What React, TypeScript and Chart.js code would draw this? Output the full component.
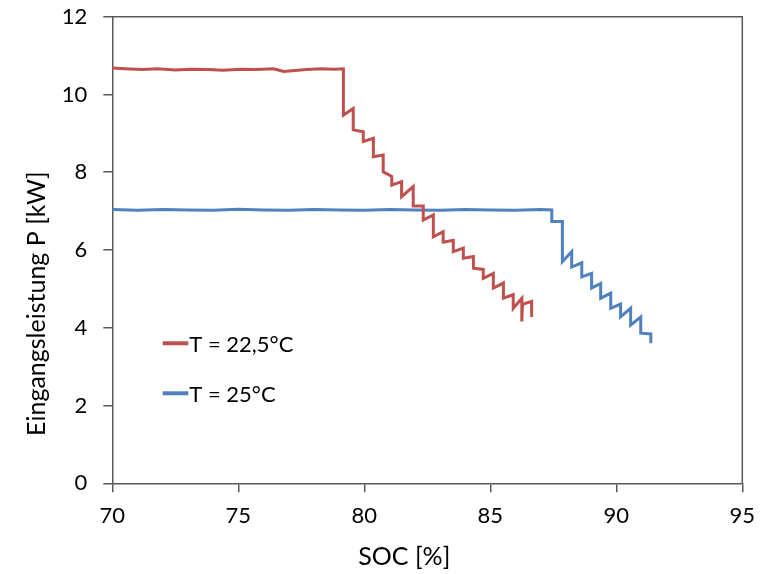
import { useEffect, useRef } from 'react';
import { Chart, registerables } from 'chart.js';

Chart.register(...registerables);

const FONT = 'Lato, "Noto Sans", sans-serif';

const X_TITLE = 'SOC [%]';
const Y_TITLE = 'Eingangsleistung P [kW]';
const SERIES_LABELS = ['T = 22,5°C', 'T = 25°C'];
const SERIES_COLORS = ['#C0504D', '#4F81BD'];

const X_TICKS = [70, 75, 80, 85, 90, 95];
const Y_TICKS = [0, 2, 4, 6, 8, 10, 12];

const redSoc = [
  70, 70.5, 71.2, 71.8, 72.5, 73.1, 73.8, 74.4, 75.1, 75.7, 76.4, 76.8, 77.7, 78.3, 78.8, 79.17,
  79.17, 79.56, 79.56, 79.96, 79.96, 80.36, 80.36, 80.75, 80.75, 81.09, 81.09, 81.48, 81.48,
  81.94, 81.94, 82.34, 82.34, 82.74, 82.74, 83.13, 83.13, 83.53, 83.53, 83.93, 83.93, 84.33,
  84.33, 84.72, 84.72, 85.12, 85.12, 85.52, 85.52, 85.91, 85.91, 86.25, 86.25, 86.28, 86.64, 86.64,
];
const redP = [
  10.68, 10.66, 10.64, 10.66, 10.63, 10.65, 10.64, 10.62, 10.65, 10.64, 10.66, 10.59, 10.64, 10.66, 10.65, 10.66,
  9.47, 9.64, 9.09, 9.04, 8.79, 8.87, 8.4, 8.44, 8.01, 7.89, 7.67, 7.76, 7.37,
  7.63, 7.13, 7.13, 6.77, 6.9, 6.34, 6.47, 6.2, 6.25, 5.96, 6.05, 5.79, 5.83,
  5.53, 5.5, 5.27, 5.4, 5.02, 5.15, 4.76, 4.85, 4.5, 4.76, 4.16, 4.6, 4.68, 4.28,
];

const blueSoc = [
  70, 71, 72, 73, 74, 75, 76, 77, 78, 79, 80, 81, 82, 83, 84, 85, 86, 87, 87.44,
  87.44, 87.86, 87.86, 88.23, 88.23, 88.63, 88.63, 89.02, 89.02, 89.38, 89.38, 89.78, 89.78,
  90.17, 90.17, 90.57, 90.57, 90.97, 90.97, 91.37, 91.37,
];
const blueP = [
  7.04, 7.02, 7.04, 7.03, 7.02, 7.05, 7.03, 7.02, 7.04, 7.03, 7.02, 7.04, 7.03, 7.02, 7.04, 7.03, 7.02, 7.04, 7.03,
  6.73, 6.73, 5.7, 5.96, 5.56, 5.67, 5.31, 5.4, 5.02, 5.14, 4.76, 4.89, 4.5,
  4.61, 4.28, 4.5, 4.07, 4.28, 3.86, 3.84, 3.6,
];

const AXIS = '#595959';

const toPoints = (xs: number[], ys: number[]) => xs.map((x, i) => ({ x, y: ys[i] }));

const overlayPlugin = {
  id: 'overlay',
  afterDraw(chart: any) {
    const { ctx, chartArea: a } = chart;
    ctx.save();
    // frame top/right
    ctx.strokeStyle = AXIS;
    ctx.lineWidth = 1.5;
    ctx.beginPath();
    ctx.moveTo(a.left, a.top);
    ctx.lineTo(a.right, a.top);
    ctx.lineTo(a.right, a.bottom);
    ctx.stroke();

    // titles
    ctx.fillStyle = '#000';
    ctx.font = `25px ${FONT}`;
    ctx.textAlign = 'center';
    ctx.textBaseline = 'alphabetic';
    ctx.fillText(X_TITLE, a.left + 292, a.bottom + 82);
    ctx.save();
    ctx.translate(a.left - 67, a.top + 287);
    ctx.rotate(-Math.PI / 2);
    ctx.fillText(Y_TITLE, 0, 0);
    ctx.restore();

    // legend
    ctx.font = `22px ${FONT}`;
    ctx.textAlign = 'left';
    SERIES_LABELS.forEach((label, i) => {
      const y = a.top + 326.6 + i * 50;
      ctx.strokeStyle = SERIES_COLORS[i];
      ctx.lineWidth = 4;
      ctx.beginPath();
      ctx.moveTo(a.left + 50.4, y);
      ctx.lineTo(a.left + 76, y);
      ctx.stroke();
      ctx.fillStyle = '#000';
      ctx.fillText(label, a.left + 77, y + 8.4);
    });
    ctx.restore();
  },
};

export default function App() {
  const ref = useRef<HTMLCanvasElement>(null);
  useEffect(() => {
    document.body.style.margin = '0';
    const tickFont = { family: FONT, size: 22 };
    const chart = new Chart(ref.current!, {
      type: 'line',
      data: {
        datasets: [
          {
            label: SERIES_LABELS[0],
            data: toPoints(redSoc, redP),
            borderColor: SERIES_COLORS[0],
            backgroundColor: SERIES_COLORS[0],
            borderWidth: 3,
            pointRadius: 0,
            tension: 0,
          },
          {
            label: SERIES_LABELS[1],
            data: toPoints(blueSoc, blueP),
            borderColor: SERIES_COLORS[1],
            backgroundColor: SERIES_COLORS[1],
            borderWidth: 3,
            pointRadius: 0,
            tension: 0,
          },
        ],
      },
      options: {
        responsive: false,
        animation: false,
        layout: { padding: { top: 16.7, right: 24.7, left: 0, bottom: 0 } },
        plugins: { legend: { display: false }, tooltip: { enabled: false } },
        scales: {
          x: {
            type: 'linear',
            min: 70,
            max: 95,
            afterBuildTicks: (s: any) => {
              s.ticks = X_TICKS.map((v) => ({ value: v }));
            },
            ticks: { font: tickFont, color: '#000', padding: 10 },
            grid: { drawOnChartArea: false, tickLength: 9, color: AXIS, lineWidth: 1.5 },
            border: { color: AXIS, width: 1.5 },
            afterFit: (s: any) => {
              s.height = 90.7;
              s.paddingLeft = 0;
              s.paddingRight = 0;
            },
          },
          y: {
            type: 'linear',
            min: 0,
            max: 12,
            afterBuildTicks: (s: any) => {
              s.ticks = Y_TICKS.map((v) => ({ value: v }));
            },
            ticks: { font: tickFont, color: '#000', padding: 16 },
            grid: { drawOnChartArea: false, tickLength: 9, color: AXIS, lineWidth: 1.5 },
            border: { color: AXIS, width: 1.5 },
            afterFit: (s: any) => {
              s.width = 112.3;
              s.paddingTop = 0;
              s.paddingBottom = 0;
            },
          },
        },
      },
      plugins: [overlayPlugin],
    } as any);
    return () => chart.destroy();
  }, []);
  return <canvas ref={ref} width={767} height={574} style={{ display: 'block' }} />;
}
